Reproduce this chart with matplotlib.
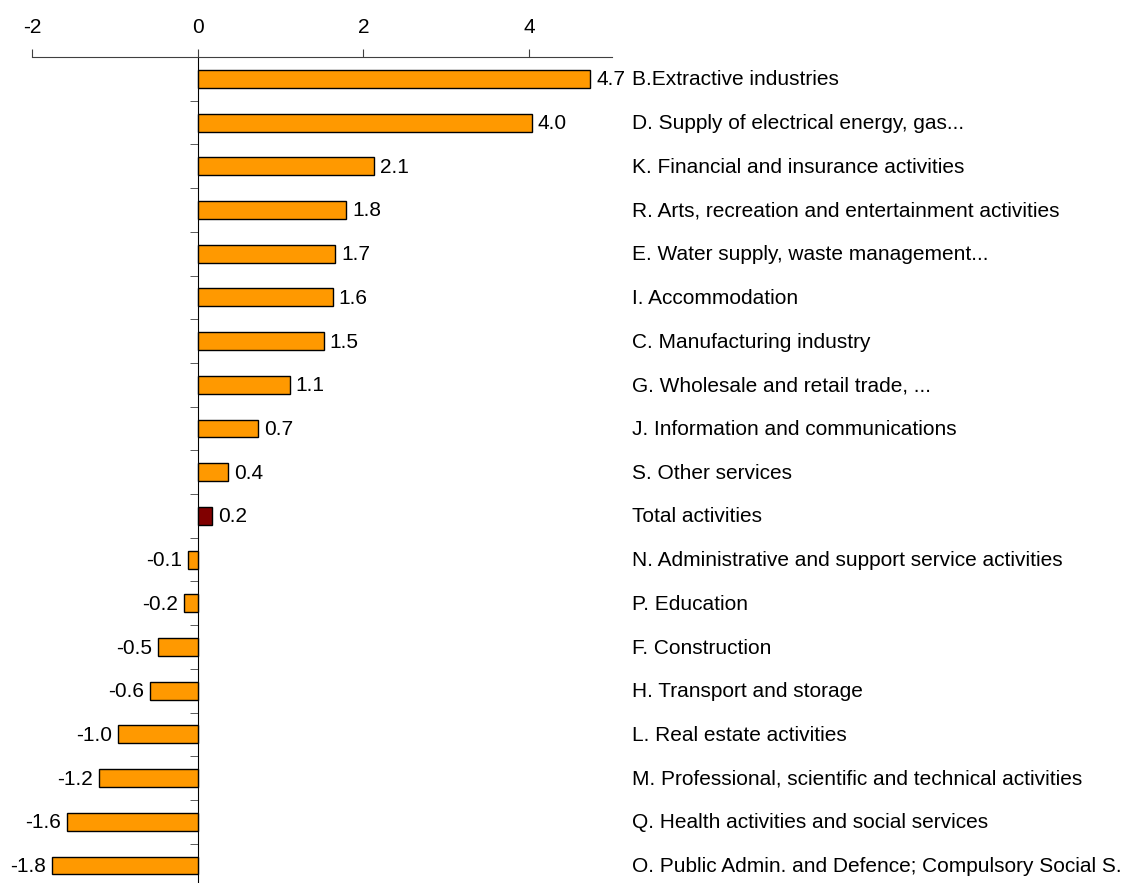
import numpy as np
import matplotlib
matplotlib.use("Agg")
import matplotlib.pyplot as plt

plt.rcParams['font.family'] = ['Liberation Sans', 'DejaVu Sans']

# sectors, top to bottom
categories = [
    "B.Extractive industries",
    "D. Supply of electrical energy, gas...",
    "K. Financial and insurance activities",
    "R. Arts, recreation and entertainment activities",
    "E. Water supply, waste management...",
    "I. Accommodation",
    "C. Manufacturing industry",
    "G. Wholesale and retail trade, ...",
    "J. Information and communications",
    "S. Other services",
    "Total activities",
    "N. Administrative and support service activities",
    "P. Education",
    "F. Construction",
    "H. Transport and storage",
    "L. Real estate activities",
    "M. Professional, scientific and technical activities",
    "Q. Health activities and social services",
    "O. Public Admin. and Defence; Compulsory Social S.",
]
values = [4.74, 4.03, 2.13, 1.79, 1.66, 1.63, 1.52, 1.11, 0.73, 0.37, 0.17,
          -0.12, -0.17, -0.48, -0.58, -0.96, -1.19, -1.58, -1.76]
value_labels = ["4.7", "4.0", "2.1", "1.8", "1.7", "1.6", "1.5", "1.1", "0.7", "0.4", "0.2",
                "-0.1", "-0.2", "-0.5", "-0.6", "-1.0", "-1.2", "-1.6", "-1.8"]

orange = "#FF9900"
darkred = "#800000"
fs = 15

fig = plt.figure(figsize=(11.26, 8.83), dpi=100)
ax = fig.add_axes([32 / 1126, 0, 580 / 1126, 1 - 57 / 883])

y = np.arange(len(categories))
colors = [darkred if c == "Total activities" else orange for c in categories]
ax.barh(y, values, height=0.41, color=colors, edgecolor="black", linewidth=1, zorder=3)

ax.set_xlim(-2, 5)
ax.set_ylim(18.4, -0.5)

for i, (v, lab, cat) in enumerate(zip(values, value_labels, categories)):
    if v >= 0:
        ax.annotate(lab, xy=(v, i), xytext=(6, -1), textcoords="offset pixels",
                    ha="left", va="center", fontsize=fs)
    else:
        ax.annotate(lab, xy=(v, i), xytext=(-6, -1), textcoords="offset pixels",
                    ha="right", va="center", fontsize=fs)
    ax.annotate(cat, xy=(5, i), xytext=(20, -1), textcoords="offset pixels",
                ha="left", va="center", fontsize=fs, annotation_clip=False)

# axes styling
ax.spines['right'].set_visible(False)
ax.spines['bottom'].set_visible(False)
ax.spines['left'].set_position(('data', 0))
ax.spines['left'].set_color('black')
ax.spines['top'].set_color('#404040')

ax.xaxis.tick_top()
ax.set_xticks([-2, 0, 2, 4])
ax.set_xticklabels(["-2", "0", "2", "4"])
ax.tick_params(axis='x', direction='out', length=6, pad=8.5, labelsize=fs, color='#404040')

ax.set_yticks([])
ax.set_yticks(np.arange(-0.5, 18.5, 1.0), minor=True)
ax.tick_params(axis='y', which='minor', direction='out', length=6, color='#404040')

fig.savefig("out.png", dpi=100)
